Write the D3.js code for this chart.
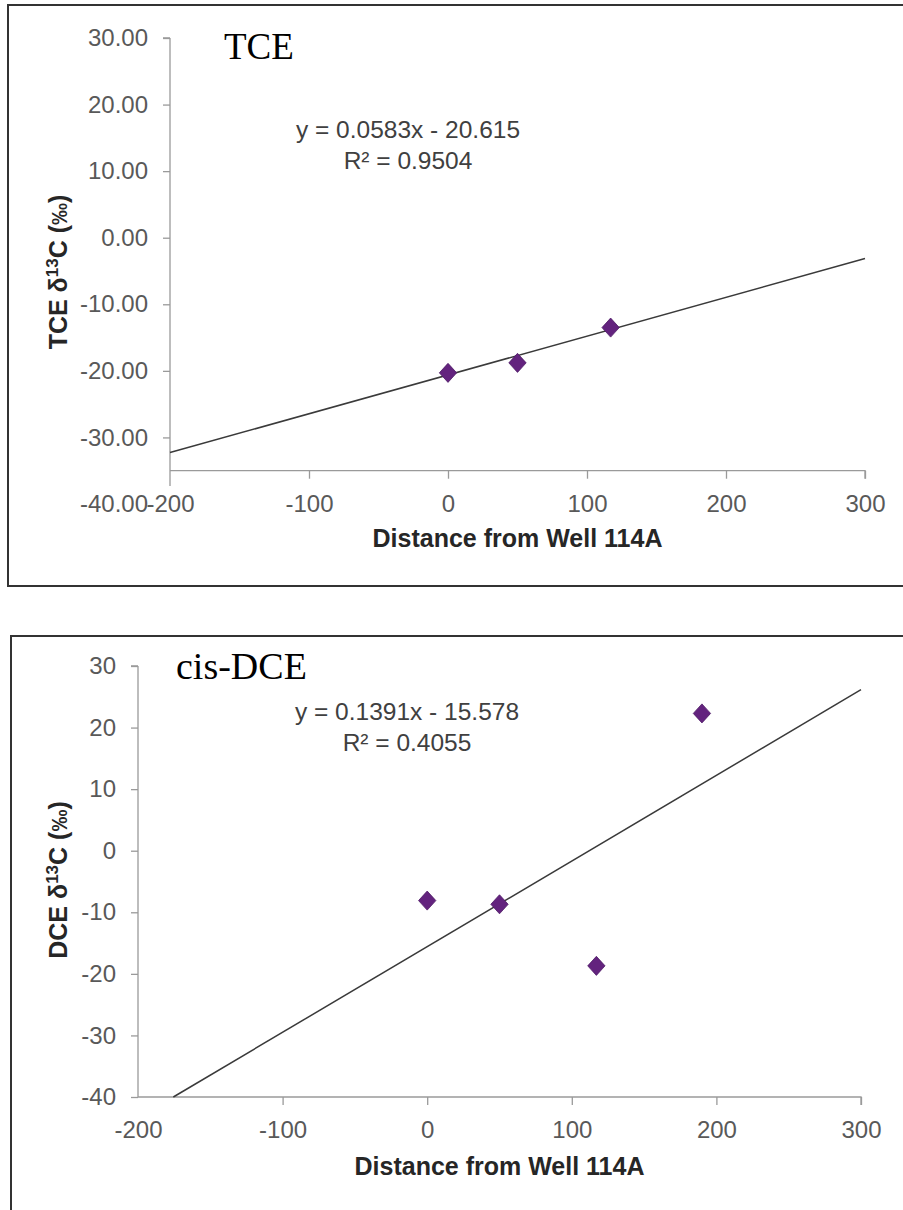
<!DOCTYPE html>
<html>
<head>
<meta charset="utf-8">
<script src="https://cdn.jsdelivr.net/npm/d3@7"></script>
<style>
  html, body { margin: 0; padding: 0; background: #fff; }
  svg { display: block; }
  .tick text { font-family: "Liberation Sans", Arial, sans-serif; font-size: 24px; fill: #595959; }
</style>
</head>
<body>
<svg id="chart" width="903" height="1210"></svg>
<script>
// ---- data ----
const xTickValues = [-200, -100, 0, 100, 200, 300];
const yTickValues = [30, 20, 10, 0, -10, -20, -30, -40];

const tceDistance = [0, 50, 117];
const tceDelta = [-20.3, -18.8, -13.5];
const tceSlope = 0.0583, tceIntercept = -20.615;
const tceEquation = ["y = 0.0583x - 20.615", "R² = 0.9504"];

const dceDistance = [0, 50, 117, 190];
const dceDelta = [-8.1, -8.7, -18.7, 22.3];
const dceSlope = 0.1391, dceIntercept = -15.578;
const dceEquation = ["y = 0.1391x - 15.578", "R² = 0.4055"];

const xDomain = [-200, 300];
const yDomain = [-40, 30];

const svg = d3.select("#chart");

const diamond = {
  draw(ctx, size) {
    const w = Math.sqrt(size) * 0.5, h = w * 1.1;
    ctx.moveTo(0, -h); ctx.lineTo(w, 0); ctx.lineTo(0, h); ctx.lineTo(-w, 0); ctx.closePath();
  }
};

function panel(o) {
  const g = svg.append("g");
  // frame
  g.append("path")
    .attr("d", o.frame)
    .attr("fill", "none").attr("stroke", "#333").attr("stroke-width", 2);

  const x = d3.scaleLinear().domain(xDomain).range(o.xRange);
  const y = d3.scaleLinear().domain(yDomain).range(o.yRange);

  // y axis
  const ya = g.append("g").attr("transform", `translate(${o.xRange[0]},0)`)
    .call(d3.axisLeft(y).tickValues(yTickValues).tickSize(7).tickPadding(15).tickFormat(o.yFmt));
  ya.select(".domain").attr("d", `M0,${y(yDomain[1])}H-7M0,${y(yDomain[1])}V${y(o.yAxisEnd)}`);
  ya.selectAll(".tick line").filter(d => d < o.xAxisAt).remove();
  ya.selectAll(".domain, .tick line").attr("stroke", "#9a9a9a").attr("stroke-width", 1.3);

  // x axis
  const xa = g.append("g").attr("transform", `translate(0,${y(o.xAxisAt)})`)
    .call(d3.axisBottom(x).tickValues(xTickValues).tickSize(8).tickPadding(16).tickFormat(d => String(d)));
  xa.select(".domain").attr("d", `M${x(xDomain[0])},0H${x(xDomain[1])}V8`);
  xa.selectAll(".tick line").filter(d => d === xDomain[0]).remove();
  xa.selectAll(".domain, .tick line").attr("stroke", "#9a9a9a").attr("stroke-width", 1.3);

  // trend line
  const xs = Math.max(xDomain[0], (yDomain[0] - o.b) / o.m);
  const xe = Math.min(xDomain[1], (yDomain[1] - o.b) / o.m);
  g.append("line")
    .attr("x1", x(xs)).attr("y1", y(o.m * xs + o.b))
    .attr("x2", x(xe)).attr("y2", y(o.m * xe + o.b))
    .attr("stroke", "#3a3a3a").attr("stroke-width", 1.5);

  // points
  g.selectAll("path.pt").data(o.xs.map((d, i) => [d, o.ys[i]])).join("path")
    .attr("class", "pt")
    .attr("transform", d => `translate(${x(d[0])},${y(d[1])})`)
    .attr("d", d3.symbol().type(diamond).size(300))
    .attr("fill", "#63237e").attr("stroke", "#4e1a66").attr("stroke-width", 0.8);

  // equation
  const eq = g.append("text")
    .attr("font-family", "Liberation Sans, Arial, sans-serif").attr("font-size", 24.5)
    .attr("fill", "#404040").attr("text-anchor", "middle");
  o.eq.forEach((t, i) => eq.append("tspan").attr("x", o.eqX).attr("y", o.eqY + i * 30.5).text(t));

  // title
  g.append("text")
    .attr("x", o.titleX).attr("y", o.titleY)
    .attr("font-family", "Liberation Serif, Times New Roman, serif").attr("font-size", o.titleSize)
    .attr("fill", "#000").text(o.title);

  // x axis title
  g.append("text")
    .attr("x", (o.xRange[0] + o.xRange[1]) / 2).attr("y", o.xTitleY)
    .attr("text-anchor", "middle")
    .attr("font-family", "Liberation Sans, Arial, sans-serif").attr("font-size", 25).attr("font-weight", "bold")
    .attr("fill", "#262626").text("Distance from Well 114A");

  // y axis title
  const yt = g.append("text")
    .attr("transform", `translate(${o.yTitleX},${o.yTitleY}) rotate(-90)`)
    .attr("text-anchor", "middle")
    .attr("font-family", "Liberation Sans, Arial, sans-serif").attr("font-size", 25).attr("font-weight", "bold")
    .attr("fill", "#262626");
  yt.append("tspan").text(o.yLabel + " δ");
  yt.append("tspan").attr("font-size", 17).attr("dy", -9).text("13");
  yt.append("tspan").attr("dy", 9).text("C  (");
  yt.append("tspan").attr("font-size", 22).text("‰");
  yt.append("tspan").text(")");
}

panel({
  frame: "M905,5H8V586H905",
  xRange: [170, 865], yRange: [504, 38],
  xAxisAt: -35, yAxisEnd: -37.3,
  yFmt: d => d.toFixed(2),
  m: tceSlope, b: tceIntercept, xs: tceDistance, ys: tceDelta,
  eq: tceEquation, eqX: 408, eqY: 138,
  title: "TCE", titleX: 224, titleY: 59, titleSize: 37,
  xTitleY: 547, yTitleX: 67, yTitleY: 272, yLabel: "TCE"
});

panel({
  frame: "M905,636H11V1215",
  xRange: [138, 861], yRange: [1097, 666],
  xAxisAt: -40, yAxisEnd: -40,
  yFmt: d => String(d),
  m: dceSlope, b: dceIntercept, xs: dceDistance, ys: dceDelta,
  eq: dceEquation, eqX: 407, eqY: 720,
  title: "cis-DCE", titleX: 176, titleY: 679, titleSize: 38,
  xTitleY: 1175, yTitleX: 67, yTitleY: 880, yLabel: "DCE"
});
</script>
</body>
</html>
